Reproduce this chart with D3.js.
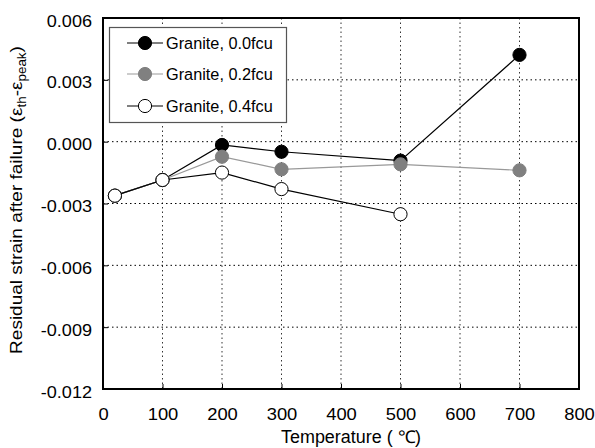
<!DOCTYPE html>
<html><head><meta charset="utf-8">
<script src="https://cdn.jsdelivr.net/npm/d3@7"></script>
<style>body{margin:0;background:#fff}text{font-family:"Liberation Sans",Arial,sans-serif}</style>
</head><body><svg id="c" width="595" height="448"></svg>
<script>
const temps = [20, 100, 200, 300, 500, 700];
const s00 = [-0.00262, -0.00186, -0.00016, -0.00049, -0.00092, 0.00421];
const s02 = [-0.00262, -0.00186, -0.00073, -0.00134, -0.00110, -0.00139];
const s04 = [-0.00262, -0.00186, -0.00150, -0.00230, -0.00352];
const seriesNames = ["Granite, 0.0fcu", "Granite, 0.2fcu", "Granite, 0.4fcu"];
const xTicks = [0,100,200,300,400,500,600,700,800];
const yTicks = [0.006,0.003,0,-0.003,-0.006,-0.009,-0.012];

const svg = d3.select("#c");
const L=103, R=579, T=18, B=389;
const x = d3.scaleLinear().domain([0,800]).range([L,R]);
const y = d3.scaleLinear().domain([-0.012,0.006]).range([B,T]);

function stretch(sel,k){
  sel.each(function(){
    const w=this.getComputedTextLength();
    d3.select(this).attr("textLength",w*k).attr("lengthAdjust","spacingAndGlyphs");
  });
}

// grid
svg.append("g").selectAll("line").data(xTicks.slice(1,-1)).join("line")
  .attr("x1",d=>x(d)).attr("x2",d=>x(d)).attr("y1",T).attr("y2",B)
  .attr("stroke","#333").attr("stroke-width",1).attr("stroke-dasharray","1.5,3");
svg.append("g").selectAll("line").data(yTicks.slice(1,-1)).join("line")
  .attr("x1",L).attr("x2",R).attr("y1",d=>y(d)).attr("y2",d=>y(d))
  .attr("stroke","#000").attr("stroke-width",1).attr("stroke-dasharray","1.5,3");

// axes
const fmt = d3.format(".3f");
const yAxis = d3.axisLeft(y).tickValues(yTicks).tickSize(-5).tickPadding(11)
  .tickFormat(d=>fmt(d).replace("\u2212","-"));
const gy = svg.append("g").attr("transform",`translate(${L},0)`).call(yAxis);
gy.select(".domain").remove();
gy.selectAll("text").attr("font-size",16.3).attr("fill","#000").attr("dy","0.5em")
  .style("font-family","Liberation Sans, Arial");
gy.selectAll("line").attr("stroke","#000");
stretch(gy.selectAll("text"),1.11);
const xAxis = d3.axisBottom(x).tickValues(xTicks).tickSize(-5).tickPadding(19).tickFormat(d3.format("d"));
const gx = svg.append("g").attr("transform",`translate(0,${B})`).call(xAxis);
gx.select(".domain").remove();
gx.selectAll("text").attr("font-size",17).attr("fill","#000").style("font-family","Liberation Sans, Arial");
gx.selectAll("line").attr("stroke","#000");
stretch(gx.selectAll("text"),1.08);

svg.append("rect").attr("x",L).attr("y",T).attr("width",R-L).attr("height",B-T)
  .attr("fill","none").attr("stroke","#000").attr("stroke-width",2);

// axis titles
svg.append("text").attr("x",351).attr("y",443).attr("text-anchor","middle")
  .attr("font-size",17.5).attr("textLength",140).attr("lengthAdjust","spacingAndGlyphs")
  .text("Temperature ( \u2103)");
const yt = svg.append("text").attr("transform",`translate(22,200) rotate(-90) scale(1.12,1)`)
  .attr("text-anchor","middle").attr("font-size",17);
yt.append("tspan").text("Residual strain after failure (\u03b5");
yt.append("tspan").attr("font-size",12).attr("dy",4).text("th");
yt.append("tspan").attr("dy",-4).text("-\u03b5");
yt.append("tspan").attr("font-size",12).attr("dy",4).text("peak");
yt.append("tspan").attr("dy",-4).text(")");

// series
const styles = [
  {data:s00, line:"#000", fill:"#000", stroke:"#000"},
  {data:s02, line:"#999", fill:"#808080", stroke:"#808080"},
  {data:s04, line:"#000", fill:"#fff", stroke:"#000"}
];
const line = d3.line().x((d,i)=>x(temps[i])).y(d=>y(d));
styles.forEach(s=>{
  svg.append("path").datum(s.data).attr("d",line).attr("fill","none")
    .attr("stroke",s.line).attr("stroke-width",1.2);
  svg.append("g").selectAll("circle").data(s.data).join("circle")
    .attr("cx",(d,i)=>x(temps[i])).attr("cy",d=>y(d)).attr("r",6.6)
    .attr("fill",s.fill).attr("stroke",s.stroke).attr("stroke-width",1);
});

// legend
const lg = svg.append("g");
lg.append("rect").attr("x",109.5).attr("y",27.5).attr("width",177).attr("height",95)
  .attr("fill","#fff").attr("stroke","#555").attr("stroke-width",1.2);
const ly = [43,74,106];
styles.forEach((s,i)=>{
  lg.append("line").attr("x1",127).attr("x2",163).attr("y1",ly[i]).attr("y2",ly[i])
    .attr("stroke",s.line).attr("stroke-width",1.2);
  lg.append("circle").attr("cx",145).attr("cy",ly[i]).attr("r",6.6)
    .attr("fill",s.fill).attr("stroke",s.stroke);
  lg.append("text").attr("x",166).attr("y",ly[i]+5.5).attr("font-size",16.3).text(seriesNames[i]);
});
</script></body></html>
